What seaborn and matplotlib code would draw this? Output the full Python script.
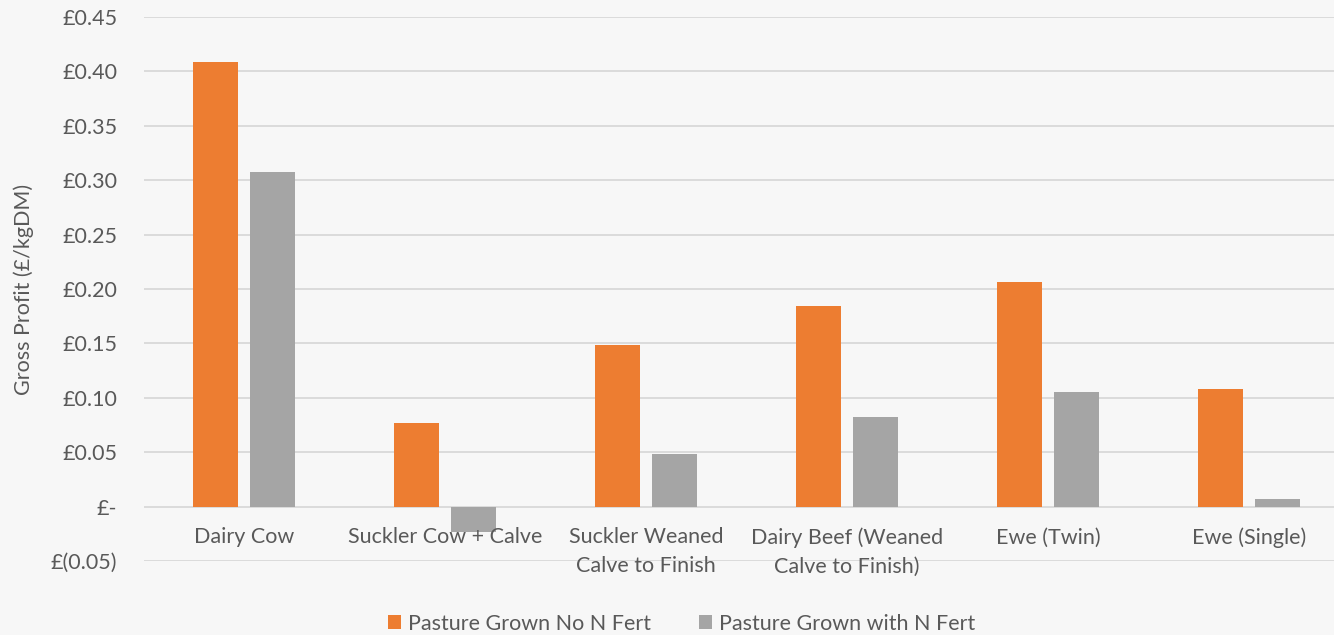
import matplotlib
matplotlib.use("Agg")
import matplotlib.pyplot as plt
import seaborn as sns
import pandas as pd
from matplotlib.ticker import FixedLocator
from matplotlib.patches import Patch

categories = ["Dairy Cow", "Suckler Cow + Calve", "Suckler Weaned\nCalve to Finish",
              "Dairy Beef (Weaned\nCalve to Finish)", "Ewe (Twin)", "Ewe (Single)"]
no_fert = [0.409, 0.077, 0.149, 0.184, 0.206, 0.108]
with_fert = [0.308, -0.023, 0.048, 0.082, 0.105, 0.007]
series = ["Pasture Grown No N Fert", "Pasture Grown with N Fert"]
ytick_vals = [-0.05, 0.0, 0.05, 0.10, 0.15, 0.20, 0.25, 0.30, 0.35, 0.40, 0.45]
ytick_labels = ["£(0.05)", "£-", "£0.05", "£0.10", "£0.15", "£0.20", "£0.25",
                "£0.30", "£0.35", "£0.40", "£0.45"]

df = pd.DataFrame({
    "cat": categories * 2,
    "series": [series[0]] * 6 + [series[1]] * 6,
    "value": no_fert + with_fert,
})

sns.set_theme(style="white")
plt.rcParams["font.family"] = ["Lato", "DejaVu Sans"]
TXT = "#595959"
BG = "#F7F7F7"
FS = 15.5
colors = {series[0]: "#ED7D31", series[1]: "#A5A5A5"}

fig = plt.figure(figsize=(13.34, 6.35), dpi=100, facecolor=BG)
ax = fig.add_axes([0.1076, 0.1165, 0.904, 0.8567])
ax.set_facecolor(BG)

sns.barplot(data=df, x="cat", y="value", hue="series", palette=colors,
            width=0.572, gap=0.21, dodge=True, ax=ax, legend=False,
            saturation=1, errorbar=None, linewidth=0, edgecolor="none", zorder=3)

ax.set_ylim(-0.05, 0.45)
ax.set_xlim(-0.5, 5.5)
ax.yaxis.set_major_locator(FixedLocator(ytick_vals))
ax.set_yticklabels(ytick_labels, fontsize=FS, color=TXT)
ax.tick_params(axis="y", length=0, pad=19)
ax.grid(axis="y", color="#D9D9D9", linewidth=1.3, zorder=0)
ax.set_axisbelow(True)
for s in ax.spines.values():
    s.set_visible(False)

ax.set_xticks(range(len(categories)))
ax.set_xticklabels([])
ax.tick_params(axis="x", length=0)
for i, c in enumerate(categories):
    ax.annotate(c, xy=(i, 0), xycoords="data", xytext=(0, -15),
                textcoords="offset points", ha="center", va="top",
                fontsize=FS, color=TXT, linespacing=1.55)

ax.set_xlabel("")
ax.set_ylabel("Gross Profit (£/kgDM)", fontsize=FS, color=TXT, labelpad=12)

handles = [Patch(facecolor=colors[s], edgecolor="none") for s in series]
fig.legend(handles, series, loc="center", bbox_to_anchor=(0.511, 0.018),
           ncol=2, frameon=False, fontsize=FS, labelcolor=TXT,
           handlelength=0.6, handleheight=0.6, handletextpad=0.35,
           columnspacing=2.2)

fig.savefig("out.png", dpi=100, facecolor=BG)
